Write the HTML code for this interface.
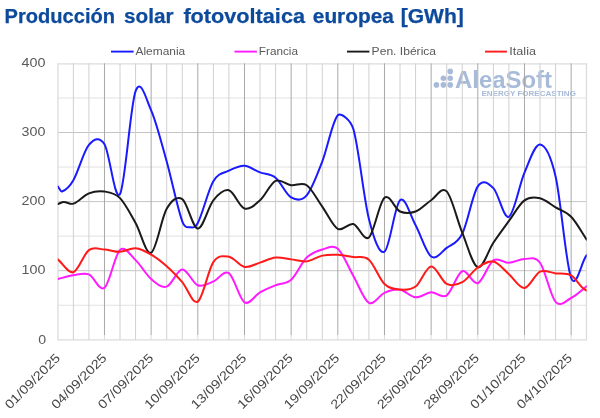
<!DOCTYPE html>
<html><head><meta charset="utf-8"><style>
html,body{margin:0;padding:0;background:#fff;}
body{width:600px;height:418px;overflow:hidden;font-family:"Liberation Sans",sans-serif;}
svg{display:block;will-change:transform;}
.title{font-family:"Liberation Sans",sans-serif;font-weight:bold;font-size:20px;fill:#0d4a9c;stroke:#0d4a9c;stroke-width:0.25px;}
.yl{font-family:"Liberation Sans",sans-serif;font-size:13.1px;fill:#595959;}
.xl{font-family:"Liberation Sans",sans-serif;font-size:12.7px;fill:#474747;}
.lg{font-family:"Liberation Sans",sans-serif;font-size:11.5px;fill:#595959;}
.wm{font-family:"Liberation Sans",sans-serif;font-weight:bold;fill:#a7bbd9;}
</style></head><body>
<svg width="600" height="418" viewBox="0 0 600 418">
<rect width="600" height="418" fill="#fff"/>
<text x="4.6" y="23.2" class="title" textLength="110.4" lengthAdjust="spacingAndGlyphs">Producción</text>
<text x="124.1" y="23.2" class="title" textLength="49.5" lengthAdjust="spacingAndGlyphs">solar</text>
<text x="183.4" y="23.2" class="title" textLength="121.6" lengthAdjust="spacingAndGlyphs">fotovoltaica</text>
<text x="312.8" y="23.2" class="title" textLength="81.1" lengthAdjust="spacingAndGlyphs">europea</text>
<text x="400.7" y="23.2" class="title" textLength="63.1" lengthAdjust="spacingAndGlyphs">[GWh]</text>

<g class="wm">
<g fill="#a7bbd9">
<circle cx="450.2" cy="71.4" r="2.8"/>
<circle cx="443.4" cy="78.2" r="2.8"/><circle cx="450.2" cy="78.2" r="2.8"/>
<circle cx="436.4" cy="84.9" r="2.8"/><circle cx="443.4" cy="84.9" r="2.8"/><circle cx="450.2" cy="84.9" r="2.8"/>
</g>
<text x="455" y="87.8" font-size="23.3" textLength="97" lengthAdjust="spacingAndGlyphs">AleaSoft</text>
<text x="481.4" y="95.9" font-size="7" textLength="94.5" lengthAdjust="spacingAndGlyphs">ENERGY FORECASTING</text>
</g>
<g shape-rendering="auto">
<line x1="57.30" x2="587.20" y1="339.85" y2="339.85" stroke="#dcdcdc" stroke-width="1.4"/>
<line x1="57.80" x2="586.70" y1="305.25" y2="305.25" stroke="#e2e2e2" stroke-width="1"/>
<line x1="57.80" x2="586.70" y1="270.70" y2="270.70" stroke="#c4c4c4" stroke-width="1"/>
<line x1="57.80" x2="586.70" y1="236.15" y2="236.15" stroke="#e2e2e2" stroke-width="1"/>
<line x1="57.80" x2="586.70" y1="201.60" y2="201.60" stroke="#c4c4c4" stroke-width="1"/>
<line x1="57.80" x2="586.70" y1="167.05" y2="167.05" stroke="#e2e2e2" stroke-width="1"/>
<line x1="57.80" x2="586.70" y1="132.50" y2="132.50" stroke="#c4c4c4" stroke-width="1"/>
<line x1="57.80" x2="586.70" y1="97.95" y2="97.95" stroke="#e2e2e2" stroke-width="1"/>
<line x1="57.30" x2="587.20" y1="63.90" y2="63.90" stroke="#dcdcdc" stroke-width="1.4"/>
<line x1="58.00" x2="58.00" y1="63.40" y2="339.80" stroke="#dcdcdc" stroke-width="1.3"/>
<line x1="73.36" x2="73.36" y1="63.40" y2="339.80" stroke="#d0d0d0" stroke-width="1"/>
<line x1="88.91" x2="88.91" y1="63.40" y2="339.80" stroke="#d0d0d0" stroke-width="1"/>
<line x1="104.47" x2="104.47" y1="63.40" y2="335.00" stroke="#a8a8a8" stroke-width="1"/>
<line x1="104.47" x2="104.47" y1="335.00" y2="339.80" stroke="#dcdcdc" stroke-width="1"/>
<line x1="120.02" x2="120.02" y1="63.40" y2="339.80" stroke="#d0d0d0" stroke-width="1"/>
<line x1="135.58" x2="135.58" y1="63.40" y2="339.80" stroke="#d0d0d0" stroke-width="1"/>
<line x1="151.14" x2="151.14" y1="63.40" y2="335.00" stroke="#a8a8a8" stroke-width="1"/>
<line x1="151.14" x2="151.14" y1="335.00" y2="339.80" stroke="#dcdcdc" stroke-width="1"/>
<line x1="166.69" x2="166.69" y1="63.40" y2="339.80" stroke="#d0d0d0" stroke-width="1"/>
<line x1="182.25" x2="182.25" y1="63.40" y2="339.80" stroke="#d0d0d0" stroke-width="1"/>
<line x1="197.80" x2="197.80" y1="63.40" y2="335.00" stroke="#a8a8a8" stroke-width="1"/>
<line x1="197.80" x2="197.80" y1="335.00" y2="339.80" stroke="#dcdcdc" stroke-width="1"/>
<line x1="213.36" x2="213.36" y1="63.40" y2="339.80" stroke="#d0d0d0" stroke-width="1"/>
<line x1="228.91" x2="228.91" y1="63.40" y2="339.80" stroke="#d0d0d0" stroke-width="1"/>
<line x1="244.47" x2="244.47" y1="63.40" y2="335.00" stroke="#a8a8a8" stroke-width="1"/>
<line x1="244.47" x2="244.47" y1="335.00" y2="339.80" stroke="#dcdcdc" stroke-width="1"/>
<line x1="260.03" x2="260.03" y1="63.40" y2="339.80" stroke="#d0d0d0" stroke-width="1"/>
<line x1="275.58" x2="275.58" y1="63.40" y2="339.80" stroke="#d0d0d0" stroke-width="1"/>
<line x1="291.14" x2="291.14" y1="63.40" y2="335.00" stroke="#a8a8a8" stroke-width="1"/>
<line x1="291.14" x2="291.14" y1="335.00" y2="339.80" stroke="#dcdcdc" stroke-width="1"/>
<line x1="306.69" x2="306.69" y1="63.40" y2="339.80" stroke="#d0d0d0" stroke-width="1"/>
<line x1="322.25" x2="322.25" y1="63.40" y2="339.80" stroke="#d0d0d0" stroke-width="1"/>
<line x1="337.81" x2="337.81" y1="63.40" y2="335.00" stroke="#a8a8a8" stroke-width="1"/>
<line x1="337.81" x2="337.81" y1="335.00" y2="339.80" stroke="#dcdcdc" stroke-width="1"/>
<line x1="353.36" x2="353.36" y1="63.40" y2="339.80" stroke="#d0d0d0" stroke-width="1"/>
<line x1="368.92" x2="368.92" y1="63.40" y2="339.80" stroke="#d0d0d0" stroke-width="1"/>
<line x1="384.47" x2="384.47" y1="63.40" y2="335.00" stroke="#a8a8a8" stroke-width="1"/>
<line x1="384.47" x2="384.47" y1="335.00" y2="339.80" stroke="#dcdcdc" stroke-width="1"/>
<line x1="400.03" x2="400.03" y1="63.40" y2="339.80" stroke="#d0d0d0" stroke-width="1"/>
<line x1="415.59" x2="415.59" y1="63.40" y2="339.80" stroke="#d0d0d0" stroke-width="1"/>
<line x1="431.14" x2="431.14" y1="63.40" y2="335.00" stroke="#a8a8a8" stroke-width="1"/>
<line x1="431.14" x2="431.14" y1="335.00" y2="339.80" stroke="#dcdcdc" stroke-width="1"/>
<line x1="446.70" x2="446.70" y1="63.40" y2="339.80" stroke="#d0d0d0" stroke-width="1"/>
<line x1="462.25" x2="462.25" y1="63.40" y2="339.80" stroke="#d0d0d0" stroke-width="1"/>
<line x1="477.81" x2="477.81" y1="63.40" y2="335.00" stroke="#a8a8a8" stroke-width="1"/>
<line x1="477.81" x2="477.81" y1="335.00" y2="339.80" stroke="#dcdcdc" stroke-width="1"/>
<line x1="493.36" x2="493.36" y1="63.40" y2="339.80" stroke="#d0d0d0" stroke-width="1"/>
<line x1="508.92" x2="508.92" y1="63.40" y2="339.80" stroke="#d0d0d0" stroke-width="1"/>
<line x1="524.48" x2="524.48" y1="63.40" y2="335.00" stroke="#a8a8a8" stroke-width="1"/>
<line x1="524.48" x2="524.48" y1="335.00" y2="339.80" stroke="#dcdcdc" stroke-width="1"/>
<line x1="540.03" x2="540.03" y1="63.40" y2="339.80" stroke="#d0d0d0" stroke-width="1"/>
<line x1="555.59" x2="555.59" y1="63.40" y2="339.80" stroke="#d0d0d0" stroke-width="1"/>
<line x1="571.14" x2="571.14" y1="63.40" y2="335.00" stroke="#a8a8a8" stroke-width="1"/>
<line x1="571.14" x2="571.14" y1="335.00" y2="339.80" stroke="#dcdcdc" stroke-width="1"/>
<line x1="586.45" x2="586.45" y1="63.40" y2="339.80" stroke="#dcdcdc" stroke-width="1.3"/>
</g>
<clipPath id="cp"><rect x="57.80" y="60" width="528.90" height="285"/></clipPath>
<g fill="none" stroke-width="2.0" stroke-linecap="round" stroke-linejoin="round" clip-path="url(#cp)">
<path d="M57.80 186.40 C59.20 188.10 60.60 192.07 62.00 191.51 C65.79 190.00 69.57 186.73 73.36 180.18 C78.54 171.21 83.73 150.93 88.91 144.94 C94.10 138.95 99.28 136.07 104.47 144.25 C109.65 152.42 114.84 202.87 120.02 194.00 C125.21 185.13 130.39 104.98 135.58 91.04 C140.76 77.10 145.95 98.64 151.14 110.39 C156.32 122.14 161.51 143.04 166.69 161.52 C171.88 180.01 177.06 206.79 182.25 221.29 C184.89 228.69 187.54 226.94 190.18 227.24 C192.72 227.52 195.26 228.07 197.80 223.02 C202.99 212.73 208.17 189.95 213.36 181.22 C218.54 172.49 223.73 173.23 228.91 170.64 C234.10 168.05 239.29 165.37 244.47 165.67 C249.66 165.97 254.84 170.44 260.03 172.44 C265.21 174.44 270.40 173.52 275.58 177.69 C280.77 181.86 285.95 194.51 291.14 197.45 C296.32 200.40 301.51 201.37 306.69 195.38 C311.88 189.39 317.06 174.88 322.25 161.52 C327.44 148.16 332.62 120.64 337.81 115.22 C340.66 112.25 350.51 119.54 353.36 129.04 C358.55 146.32 363.73 198.43 368.92 218.88 C374.10 239.32 379.29 254.81 384.47 251.70 C389.66 248.59 394.84 204.62 400.03 200.22 C405.21 195.82 410.40 215.92 415.59 225.30 C420.77 234.69 425.96 252.77 431.14 256.53 C436.33 260.30 441.51 251.70 446.70 247.90 C451.88 244.10 457.07 243.98 462.25 233.73 C467.44 223.48 472.62 194.00 477.81 186.40 C482.99 178.80 488.18 183.06 493.36 188.13 C498.55 193.19 503.74 219.37 508.92 216.80 C514.11 214.23 519.29 184.75 524.48 172.72 C529.66 160.68 534.85 143.96 540.03 144.59 C545.22 145.23 550.40 154.30 555.59 176.52 C560.77 198.73 565.96 264.76 571.14 277.89 C576.33 291.02 581.51 260.52 586.70 255.29 C591.89 250.06 597.07 249.44 602.26 246.51" stroke="#1a1aff"/>
<path d="M57.80 278.99 C62.99 277.73 68.17 275.95 73.36 275.19 C78.54 274.43 83.73 272.34 88.91 274.43 C94.10 276.53 99.28 291.84 104.47 287.77 C109.65 283.69 114.84 254.58 120.02 249.97 C125.21 245.36 130.39 255.29 135.58 260.13 C140.76 264.96 145.95 274.58 151.14 278.99 C156.32 283.40 161.51 288.18 166.69 286.59 C171.88 285.00 177.06 269.69 182.25 269.46 C187.43 269.23 192.62 283.21 197.80 285.21 C202.99 287.21 208.17 283.48 213.36 281.48 C218.54 279.48 223.73 269.71 228.91 273.19 C234.10 276.67 239.29 299.17 244.47 302.35 C249.66 305.53 254.84 295.12 260.03 292.26 C265.21 289.40 270.40 287.31 275.58 285.21 C280.77 283.11 285.95 284.29 291.14 279.68 C296.32 275.08 301.51 262.59 306.69 257.57 C311.88 252.55 317.06 251.02 322.25 249.56 C327.44 248.09 332.62 244.41 337.81 248.80 C342.99 253.18 348.18 266.88 353.36 275.88 C358.55 284.89 363.73 300.01 368.92 302.83 C374.10 305.65 379.29 294.99 384.47 292.81 C389.66 290.64 394.84 289.02 400.03 289.77 C405.21 290.52 410.40 296.89 415.59 297.30 C420.77 297.72 425.96 292.59 431.14 292.26 C436.33 291.93 441.51 298.80 446.70 295.30 C451.88 291.80 457.07 273.27 462.25 271.25 C467.44 269.24 472.62 285.03 477.81 283.21 C482.99 281.39 488.18 263.73 493.36 260.34 C498.55 256.94 503.74 263.04 508.92 262.82 C514.11 262.60 519.29 259.03 524.48 259.02 C529.66 259.01 534.85 255.62 540.03 262.75 C545.22 269.88 550.40 295.92 555.59 301.80 C560.77 307.67 565.96 300.60 571.14 297.99 C576.33 295.39 581.51 290.12 586.70 286.18" stroke="#ff1aff"/>
<path d="M57.80 204.02 C59.82 203.35 61.84 202.06 63.87 202.01 C67.03 201.94 70.19 204.77 73.36 203.67 C78.54 201.87 83.73 195.33 88.91 193.31 C94.10 191.28 99.28 190.71 104.47 191.51 C109.65 192.32 114.84 192.89 120.02 198.15 C125.21 203.40 130.39 213.92 135.58 223.02 C140.76 232.12 145.95 255.09 151.14 252.73 C156.32 250.37 161.51 217.78 166.69 208.86 C171.88 199.93 177.06 195.90 182.25 199.18 C187.43 202.46 192.62 228.36 197.80 228.55 C202.99 228.73 208.17 206.67 213.36 200.29 C218.54 193.91 223.73 188.90 228.91 190.27 C234.10 191.64 239.29 206.84 244.47 208.51 C249.66 210.18 254.84 204.89 260.03 200.29 C265.21 195.68 270.40 183.38 275.58 180.87 C280.77 178.36 285.95 184.50 291.14 185.22 C296.32 185.95 301.51 181.66 306.69 185.22 C311.88 188.78 317.06 199.30 322.25 206.58 C327.44 213.85 332.62 225.98 337.81 228.89 C342.99 231.81 348.18 222.64 353.36 224.06 C358.55 225.47 363.73 241.79 368.92 237.39 C374.10 232.99 379.29 201.98 384.47 197.66 C389.66 193.34 394.84 209.18 400.03 211.48 C405.21 213.78 410.40 213.36 415.59 211.48 C420.77 209.60 425.96 203.57 431.14 200.22 C436.33 196.87 441.51 185.96 446.70 191.37 C451.88 196.79 457.07 220.04 462.25 232.69 C467.44 245.35 472.62 265.64 477.81 267.31 C482.99 268.98 488.18 250.44 493.36 242.71 C498.55 234.99 503.74 228.01 508.92 220.95 C514.11 213.89 519.29 204.12 524.48 200.36 C529.66 196.59 534.85 197.18 540.03 198.35 C545.22 199.53 550.40 204.33 555.59 207.40 C560.77 210.48 565.96 211.44 571.14 216.80 C576.33 222.17 581.51 232.00 586.70 239.61" stroke="#1a1a1a"/>
<path d="M57.80 259.37 C62.99 263.65 68.17 273.76 73.36 272.22 C78.54 270.68 83.73 253.89 88.91 250.11 C94.10 246.33 99.28 249.27 104.47 249.56 C109.65 249.84 114.84 252.04 120.02 251.84 C125.21 251.63 130.39 247.85 135.58 248.31 C140.76 248.77 145.95 251.62 151.14 254.60 C156.32 257.58 161.51 261.62 166.69 266.21 C171.88 270.79 177.06 276.20 182.25 282.10 C187.43 288.00 192.62 304.93 197.80 301.59 C202.99 298.25 208.17 269.54 213.36 262.06 C218.54 254.59 223.73 255.94 228.91 256.74 C234.10 257.55 239.29 265.92 244.47 266.90 C249.66 267.88 254.84 264.17 260.03 262.62 C265.21 261.06 270.40 258.11 275.58 257.57 C280.77 257.03 285.95 258.73 291.14 259.37 C296.32 260.00 301.51 261.99 306.69 261.37 C311.88 260.75 317.06 256.73 322.25 255.64 C327.44 254.54 332.62 254.57 337.81 254.81 C342.99 255.05 348.18 256.28 353.36 257.09 C358.55 257.89 363.73 255.16 368.92 259.64 C374.10 264.12 379.29 278.99 384.47 283.97 C389.66 288.94 394.84 289.07 400.03 289.50 C405.21 289.92 410.40 290.37 415.59 286.52 C420.77 282.68 425.96 266.84 431.14 266.42 C436.33 265.99 441.51 281.34 446.70 283.97 C451.88 286.59 457.07 284.91 462.25 282.17 C467.44 279.43 472.62 270.95 477.81 267.52 C482.99 264.09 488.18 260.47 493.36 261.58 C498.55 262.68 503.74 269.76 508.92 274.15 C514.11 278.55 519.29 288.40 524.48 287.98 C529.66 287.55 534.85 274.03 540.03 271.60 C545.22 269.17 550.40 272.76 555.59 273.39 C560.77 274.03 565.96 272.55 571.14 275.40 C576.33 278.24 581.51 289.86 586.70 290.46 C591.89 291.06 597.07 282.82 602.26 278.99" stroke="#ff1a1a"/>
</g>
<g stroke-width="1.9" stroke-linecap="butt">
<line x1="111" x2="133.6" y1="51.6" y2="51.6" stroke="#1a1aff"/>
<line x1="234.5" x2="256.9" y1="51.6" y2="51.6" stroke="#ff1aff"/>
<line x1="347" x2="369.4" y1="51.6" y2="51.6" stroke="#1a1a1a"/>
<line x1="485" x2="506.9" y1="51.6" y2="51.6" stroke="#ff1a1a"/>
</g>
<text x="135.5" y="55" class="lg" textLength="49.7" lengthAdjust="spacingAndGlyphs">Alemania</text>
<text x="258.8" y="55" class="lg" textLength="39.2" lengthAdjust="spacingAndGlyphs">Francia</text>
<text x="371.6" y="55" class="lg" textLength="64.5" lengthAdjust="spacingAndGlyphs">Pen. Ibérica</text>
<text x="509.3" y="55" class="lg" textLength="26.7" lengthAdjust="spacingAndGlyphs">Italia</text>
<text x="38.30" y="343.50" class="yl" textLength="7.9" lengthAdjust="spacingAndGlyphs">0</text>
<text x="21.60" y="274.40" class="yl" textLength="23.9" lengthAdjust="spacingAndGlyphs">100</text>
<text x="21.60" y="205.30" class="yl" textLength="23.9" lengthAdjust="spacingAndGlyphs">200</text>
<text x="21.60" y="136.20" class="yl" textLength="23.9" lengthAdjust="spacingAndGlyphs">300</text>
<text x="21.60" y="67.10" class="yl" textLength="23.9" lengthAdjust="spacingAndGlyphs">400</text>

<text transform="translate(61.00,358.70) rotate(-45)" x="-72.3" y="0" textLength="72.3" lengthAdjust="spacingAndGlyphs" class="xl">01/09/2025</text>
<text transform="translate(107.54,358.70) rotate(-45)" x="-72.3" y="0" textLength="72.3" lengthAdjust="spacingAndGlyphs" class="xl">04/09/2025</text>
<text transform="translate(154.07,358.70) rotate(-45)" x="-72.3" y="0" textLength="72.3" lengthAdjust="spacingAndGlyphs" class="xl">07/09/2025</text>
<text transform="translate(200.61,358.70) rotate(-45)" x="-72.3" y="0" textLength="72.3" lengthAdjust="spacingAndGlyphs" class="xl">10/09/2025</text>
<text transform="translate(247.14,358.70) rotate(-45)" x="-72.3" y="0" textLength="72.3" lengthAdjust="spacingAndGlyphs" class="xl">13/09/2025</text>
<text transform="translate(293.68,358.70) rotate(-45)" x="-72.3" y="0" textLength="72.3" lengthAdjust="spacingAndGlyphs" class="xl">16/09/2025</text>
<text transform="translate(340.22,358.70) rotate(-45)" x="-72.3" y="0" textLength="72.3" lengthAdjust="spacingAndGlyphs" class="xl">19/09/2025</text>
<text transform="translate(386.75,358.70) rotate(-45)" x="-72.3" y="0" textLength="72.3" lengthAdjust="spacingAndGlyphs" class="xl">22/09/2025</text>
<text transform="translate(433.29,358.70) rotate(-45)" x="-72.3" y="0" textLength="72.3" lengthAdjust="spacingAndGlyphs" class="xl">25/09/2025</text>
<text transform="translate(479.82,358.70) rotate(-45)" x="-72.3" y="0" textLength="72.3" lengthAdjust="spacingAndGlyphs" class="xl">28/09/2025</text>
<text transform="translate(526.36,358.70) rotate(-45)" x="-72.3" y="0" textLength="72.3" lengthAdjust="spacingAndGlyphs" class="xl">01/10/2025</text>
<text transform="translate(572.90,358.70) rotate(-45)" x="-72.3" y="0" textLength="72.3" lengthAdjust="spacingAndGlyphs" class="xl">04/10/2025</text>

</svg>
</body></html>
